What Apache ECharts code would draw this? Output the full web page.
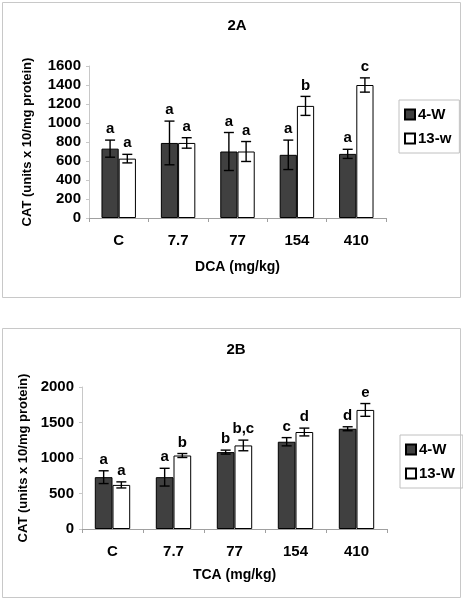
<!DOCTYPE html>
<html><head><meta charset="utf-8">
<script src="https://cdn.jsdelivr.net/npm/echarts@6/dist/echarts.min.js"></script>
<style>html,body{margin:0;padding:0;background:#fff}#a,#b{width:463px;height:300px}</style>
</head><body><div id="a"></div><div id="b"></div>
<script>
const categories = ['C', '7.7', '77', '154', '410'];
// Panel 2A (DCA)
const a4w = [730, 790, 700, 665, 675];
const a4wErr = [90, 230, 200, 155, 48];
const a4wLetters = ['a', 'a', 'a', 'a', 'a'];
const a13w = [625, 790, 700, 1180, 1400];
const a13wErr = [45, 55, 105, 100, 75];
const a13wLetters = ['a', 'a', 'a', 'b', 'c'];
const aTicks = [0, 200, 400, 600, 800, 1000, 1200, 1400, 1600];
// Panel 2B (TCA)
const b4w = [730, 730, 1083, 1229, 1412];
const b4wErr = [90, 125, 28, 58, 28];
const b4wLetters = ['a', 'a', 'b', 'c', 'd'];
const b13w = [621, 1035, 1177, 1366, 1677];
const b13wErr = [43, 28, 75, 55, 90];
const b13wLetters = ['a', 'b', 'b,c', 'd', 'e'];
const bTicks = [0, 500, 1000, 1500, 2000];

const FONT = '"Liberation Sans", Arial, sans-serif';
const GAP = 0.42;

function errSeries(name, vals, errs, letters, side) {
  return {
    type: 'custom', name: name + ' err', silent: true, z: 5,
    data: vals.map((v, i) => [i, v, errs[i]]),
    renderItem: function (params, api) {
      const i = api.value(0), v = api.value(1), e = api.value(2);
      const band = api.size([1, 0])[0];
      const bw = band * (1 - GAP) / 2;
      const c = api.coord([i, v]);
      const x = c[0] + side * bw / 2;
      const top = api.coord([i, v + e])[1];
      const bot = api.coord([i, v - e])[1];
      const cap = 5;
      const st = { stroke: '#000', lineWidth: 1.4 };
      return { type: 'group', children: [
        { type: 'line', shape: { x1: x, y1: top, x2: x, y2: bot }, style: st },
        { type: 'line', shape: { x1: x - cap, y1: top, x2: x + cap, y2: top }, style: st },
        { type: 'line', shape: { x1: x - cap, y1: bot, x2: x + cap, y2: bot }, style: st },
        { type: 'text', x: x, y: top - 11, style: { text: letters[i], font: 'bold 15px ' + FONT, fill: '#000', align: 'center', verticalAlign: 'middle' } }
      ]};
    }
  };
}

function build(el, cfg) {
  const chart = echarts.init(el, null, { renderer: 'canvas' });
  chart.setOption({
    animation: false,
    backgroundColor: '#fff',
    graphic: [{ type: 'rect', shape: { x: cfg.box[0], y: cfg.box[1], width: cfg.box[2], height: cfg.box[3] },
      style: { fill: 'none', stroke: '#c8c8c8', lineWidth: 1 }, silent: true, z: -1 }],
    title: { text: cfg.title, left: cfg.titleX, top: cfg.titleY, textAlign: 'center',
      textStyle: { fontFamily: FONT, fontWeight: 'bold', fontSize: 15, color: '#000' } },
    legend: {
      orient: 'vertical', left: cfg.legend[0], top: cfg.legend[1], width: 56,
      data: [cfg.names[0], cfg.names[1]],
      itemWidth: 10, itemHeight: 10, itemGap: 9, icon: 'rect',
      padding: [7, 8, 7, 5], borderColor: '#c0c0c0', borderWidth: 1,
      textStyle: { fontFamily: FONT, fontWeight: 'bold', fontSize: 15, color: '#000', padding: [0, 0, 0, -2] }
    },
    grid: { left: cfg.grid[0], top: cfg.grid[1], width: cfg.grid[2], height: cfg.grid[3] },
    xAxis: {
      type: 'category', data: categories,
      name: cfg.xName, nameLocation: 'middle', nameGap: cfg.xNameGap,
      nameTextStyle: { fontFamily: FONT, fontWeight: 'bold', fontSize: 14, color: '#000' },
      axisLine: { lineStyle: { color: '#a0a0a0' } },
      axisTick: { show: true, length: 4, lineStyle: { color: '#a0a0a0' } },
      axisLabel: { margin: 15, fontFamily: FONT, fontWeight: 'bold', fontSize: 15, color: '#000' }
    },
    yAxis: {
      type: 'value', min: 0, max: cfg.ticks[cfg.ticks.length - 1], interval: cfg.ticks[1] - cfg.ticks[0],
      name: 'CAT (units x 10/mg protein)', nameLocation: 'middle', nameGap: cfg.yNameGap,
      nameTextStyle: { fontFamily: FONT, fontWeight: 'bold', fontSize: 13, color: '#000' },
      axisLine: { show: true, lineStyle: { color: '#c8c8c8' } },
      axisTick: { show: true, length: 3, lineStyle: { color: '#c8c8c8' } },
      splitLine: { show: false },
      axisLabel: { margin: 8, fontFamily: FONT, fontWeight: 'bold', fontSize: 15, color: '#000', formatter: v => String(v) }
    },
    series: [
      { type: 'bar', name: cfg.names[0], data: cfg.s1, barGap: '0%', barCategoryGap: (GAP * 100) + '%',
        itemStyle: { color: '#404040', borderColor: '#000', borderWidth: 1 } },
      { type: 'bar', name: cfg.names[1], data: cfg.s2, barGap: '0%', barCategoryGap: (GAP * 100) + '%',
        itemStyle: { color: '#fff', borderColor: '#000', borderWidth: 1 } },
      errSeries(cfg.names[0], cfg.s1, cfg.e1, cfg.l1, -1),
      errSeries(cfg.names[1], cfg.s2, cfg.e2, cfg.l2, 1)
    ]
  });
}

build(document.getElementById('a'), {
  box: [2.5, 2.5, 458, 295], title: '2A', titleX: 232, titleY: 13,
  legend: [399, 100], names: ['4-W', '13-w'],
  grid: [89, 66, 297, 152], xName: 'DCA (mg/kg)', xNameGap: 42, ticks: aTicks, yNameGap: 55,
  s1: a4w, e1: a4wErr, l1: a4wLetters, s2: a13w, e2: a13wErr, l2: a13wLetters
});
build(document.getElementById('b'), {
  box: [2.5, 28.5, 458, 269], title: '2B', titleX: 231, titleY: 37,
  legend: [400, 135], names: ['4-W', '13-W'],
  grid: [82, 87, 305, 142], xName: 'TCA (mg/kg)', xNameGap: 39, ticks: bTicks, yNameGap: 50,
  s1: b4w, e1: b4wErr, l1: b4wLetters, s2: b13w, e2: b13wErr, l2: b13wLetters
});
</script>
</body></html>
